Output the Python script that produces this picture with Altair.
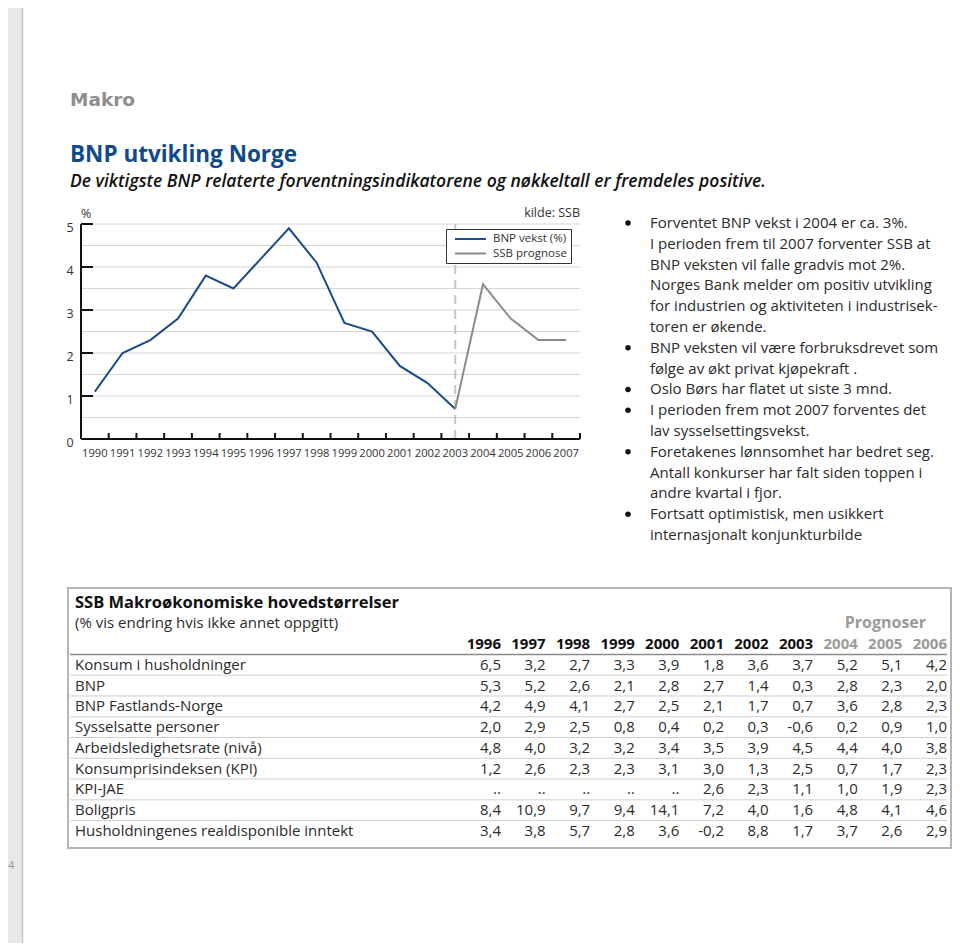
import altair as alt
import pandas as pd

FONT = "Open Sans"

# ---------------- line chart data ----------------
bnp_years = list(range(1990, 2004))
bnp_vekst = [1.1, 2.0, 2.3, 2.8, 3.8, 3.5, 4.2, 4.9, 4.1, 2.7, 2.5, 1.7, 1.3, 0.7]
prog_years = [2003, 2004, 2005, 2006, 2007]
ssb_prognose = [0.7, 3.6, 2.8, 2.3, 2.3]
series_names = ["BNP vekst (%)", "SSB prognose"]
series_colors = ["#1b4a8a", "#8a8a8a"]
x_years = list(range(1990, 2008))
y_tick_values = [0, 1, 2, 3, 4, 5]
grid_values = [0.5, 1.0, 1.5, 2.0, 2.5, 3.0, 3.5, 4.0, 4.5, 5.0]
forecast_year = 2003

# ---------------- bullet text ----------------
bullet_lines = [
    ("Forventet BNP vekst i 2004 er ca. 3%.", True),
    ("I perioden frem til 2007 forventer SSB at", False),
    ("BNP veksten vil falle gradvis mot 2%.", False),
    ("Norges Bank melder om positiv utvikling", False),
    ("for industrien og aktiviteten i industrisek-", False),
    ("toren er økende.", False),
    ("BNP veksten vil være forbruksdrevet som", True),
    ("følge av økt privat kjøpekraft .", False),
    ("Oslo Børs har flatet ut siste 3 mnd.", True),
    ("I perioden frem mot 2007 forventes det", True),
    ("lav sysselsettingsvekst.", False),
    ("Foretakenes lønnsomhet har bedret seg.", True),
    ("Antall konkurser har falt siden toppen i", False),
    ("andre kvartal i fjor.", False),
    ("Fortsatt optimistisk, men usikkert", True),
    ("internasjonalt konjunkturbilde", False),
]

# ---------------- table ----------------
table_years = ["1996", "1997", "1998", "1999", "2000", "2001", "2002", "2003", "2004", "2005", "2006"]
forecast_years = ["2004", "2005", "2006"]
table_rows = [
    "Konsum i husholdninger",
    "BNP",
    "BNP Fastlands-Norge",
    "Sysselsatte personer",
    "Arbeidsledighetsrate (nivå)",
    "Konsumprisindeksen (KPI)",
    "KPI-JAE",
    "Boligpris",
    "Husholdningenes realdisponible inntekt",
]
konsum = [6.5, 3.2, 2.7, 3.3, 3.9, 1.8, 3.6, 3.7, 5.2, 5.1, 4.2]
bnp = [5.3, 5.2, 2.6, 2.1, 2.8, 2.7, 1.4, 0.3, 2.8, 2.3, 2.0]
bnp_fastland = [4.2, 4.9, 4.1, 2.7, 2.5, 2.1, 1.7, 0.7, 3.6, 2.8, 2.3]
sysselsatte = [2.0, 2.9, 2.5, 0.8, 0.4, 0.2, 0.3, -0.6, 0.2, 0.9, 1.0]
ledighet = [4.8, 4.0, 3.2, 3.2, 3.4, 3.5, 3.9, 4.5, 4.4, 4.0, 3.8]
kpi = [1.2, 2.6, 2.3, 2.3, 3.1, 3.0, 1.3, 2.5, 0.7, 1.7, 2.3]
kpi_jae = [None, None, None, None, None, 2.6, 2.3, 1.1, 1.0, 1.9, 2.3]
boligpris = [8.4, 10.9, 9.7, 9.4, 14.1, 7.2, 4.0, 1.6, 4.8, 4.1, 4.6]
realinntekt = [3.4, 3.8, 5.7, 2.8, 3.6, -0.2, 8.8, 1.7, 3.7, 2.6, 2.9]
table_values = [konsum, bnp, bnp_fastland, sysselsatte, ledighet, kpi, kpi_jae, boligpris, realinntekt]

TEXT = "#2b2b2b"

# ================= line chart =================
xs = alt.Scale(domain=[1989.5, 2007.5], range=[73, 572], nice=False, zero=False)
ys = alt.Scale(domain=[0, 5], range=[431, 216], nice=False, zero=False)

line_df = pd.DataFrame(
    [{"year": y, "value": v, "series": series_names[0]} for y, v in zip(bnp_years, bnp_vekst)]
    + [{"year": y, "value": v, "series": series_names[1]} for y, v in zip(prog_years, ssb_prognose)]
)
grid_df = pd.DataFrame({"g": grid_values, "x0": 1989.5, "x1": 2007.5})
ytick_df = pd.DataFrame({"v": y_tick_values[1:], "x0": 1989.5})
ylab_df = pd.DataFrame({"v": y_tick_values, "x0": 1989.5, "t": [str(v) for v in y_tick_values]})
xtick_df = pd.DataFrame({"b": [y + 0.5 for y in x_years], "y0": 0})
xlab_df = pd.DataFrame({"year": x_years, "y0": 0, "t": [str(y) for y in x_years]})
axis_df = pd.DataFrame({"x0": [1989.5], "x1": [2007.5], "y0": [0], "y1": [5]})
fc_df = pd.DataFrame({"x": [forecast_year], "y0": [0], "y1": [5]})
note_df = pd.DataFrame({"x": [1989.5, 2007.5], "y": [5, 5], "t": ["%", "kilde: SSB"], "a": ["l", "r"]})

grid = alt.Chart(grid_df).mark_rule(color="#d6d6d6", strokeWidth=1).encode(
    x=alt.X("x0:Q", scale=xs, axis=None), x2="x1:Q", y=alt.Y("g:Q", scale=ys, axis=None)
)
fc_rule = alt.Chart(fc_df).mark_rule(color="#c4c4c4", strokeWidth=2, strokeDash=[9, 6]).encode(
    x=alt.X("x:Q", scale=xs, axis=None), y=alt.Y("y0:Q", scale=ys, axis=None), y2="y1:Q"
)
yaxis_line = alt.Chart(axis_df).mark_rule(color="#111", strokeWidth=2).encode(
    x=alt.X("x0:Q", scale=xs, axis=None), y=alt.Y("y0:Q", scale=ys, axis=None), y2="y1:Q"
)
xaxis_line = alt.Chart(axis_df).mark_rule(color="#111", strokeWidth=2).encode(
    x=alt.X("x0:Q", scale=xs, axis=None), x2="x1:Q", y=alt.Y("y0:Q", scale=ys, axis=None)
)
yticks = alt.Chart(ytick_df).mark_rule(color="#111", strokeWidth=2, x2Offset=12).encode(
    x=alt.X("x0:Q", scale=xs, axis=None), x2="x0:Q", y=alt.Y("v:Q", scale=ys, axis=None)
)
xticks = alt.Chart(xtick_df).mark_rule(color="#111", strokeWidth=2, y2Offset=-6).encode(
    x=alt.X("b:Q", scale=xs, axis=None), y=alt.Y("y0:Q", scale=ys, axis=None), y2="y0:Q"
)
ylabels = alt.Chart(ylab_df).mark_text(
    font=FONT, fontSize=12.5, color="#333", align="center", baseline="middle", dx=-11, dy=4
).encode(x=alt.X("x0:Q", scale=xs, axis=None), y=alt.Y("v:Q", scale=ys, axis=None), text="t:N")
xlabels = alt.Chart(xlab_df).mark_text(
    font=FONT, fontSize=11.2, color="#333", align="center", baseline="middle", dy=15
).encode(x=alt.X("year:Q", scale=xs, axis=None), y=alt.Y("y0:Q", scale=ys, axis=None), text="t:N")
pct = alt.Chart(note_df[note_df.a == "l"]).mark_text(
    font=FONT, fontSize=12.5, color="#333", align="left", baseline="middle", dx=0, dy=-10
).encode(x=alt.X("x:Q", scale=xs, axis=None), y=alt.Y("y:Q", scale=ys, axis=None), text="t:N")
kilde = alt.Chart(note_df[note_df.a == "r"]).mark_text(
    font=FONT, fontSize=12.5, color="#333", align="right", baseline="middle", dy=-11
).encode(x=alt.X("x:Q", scale=xs, axis=None), y=alt.Y("y:Q", scale=ys, axis=None), text="t:N")
lines = alt.Chart(line_df).mark_line(strokeWidth=2).encode(
    x=alt.X("year:Q", scale=xs, axis=None),
    y=alt.Y("value:Q", scale=ys, axis=None),
    color=alt.Color(
        "series:N",
        scale=alt.Scale(domain=series_names, range=series_colors),
        legend=alt.Legend(
            orient="none", legendX=438, legendY=221, title=None,
            symbolType="M-0.2,0H6", symbolSize=100, symbolStrokeWidth=2,
            labelFont=FONT, labelFontSize=11.5, labelColor="#333", labelOffset=31,
            strokeColor="#333", fillColor="white", padding=4, rowPadding=2.5,
        ),
    ),
    order="year:Q",
)
line_chart = alt.layer(grid, fc_rule, lines, yaxis_line, xaxis_line, yticks, xticks, ylabels, xlabels, pct, kilde)

# ================= bullets =================
bdf = pd.DataFrame({"i": list(range(len(bullet_lines))),
                    "t": [b[0] for b in bullet_lines],
                    "bullet": [b[1] for b in bullet_lines]})
bys = alt.Scale(domain=[0, len(bullet_lines) - 1], range=[215, 527], nice=False, zero=False)
btext = alt.Chart(bdf).mark_text(font=FONT, fontSize=15, color=TEXT, align="left", baseline="middle").encode(
    x=alt.value(642), y=alt.Y("i:Q", scale=bys, axis=None), text="t:N"
)
bdots = alt.Chart(bdf[bdf.bullet]).mark_circle(color="#111", opacity=1, size=30).encode(
    x=alt.value(620), y=alt.Y("i:Q", scale=bys, axis=None)
)
bullet_chart = alt.layer(btext, bdots)

# ================= table =================
def fmt(v):
    if v is None:
        return ".."
    return f"{v:.1f}".replace(".", ",")

cells = []
for r, (name, vals) in enumerate(zip(table_rows, table_values)):
    for c, v in enumerate(vals):
        cells.append({"r": r, "c": c, "t": fmt(v)})
cell_df = pd.DataFrame(cells)
head_df = pd.DataFrame({"r": -1, "c": list(range(len(table_years))), "t": table_years,
                        "col": ["#9a9a9a" if y in forecast_years else "#111" for y in table_years]})
rowlab_df = pd.DataFrame({"r": list(range(len(table_rows))), "t": table_rows})
sep_df = pd.DataFrame({"r": [r + 0.5 for r in range(len(table_rows) - 1)]})
headsep_df = pd.DataFrame({"r": [-0.5]})
ttl_df = pd.DataFrame({"r": [-3, -2], "t": ["SSB Makroøkonomiske hovedstørrelser",
                                           "(% vis endring hvis ikke annet oppgitt)"],
                       "w": ["bold", "normal"]})
prog_df = pd.DataFrame({"r": [-2], "c": [9], "t": ["Prognoser"]})

txs = alt.Scale(domain=[0, 10], range=[493, 939], nice=False, zero=False)
tys = alt.Scale(domain=[-3, 8], range=[594.5, 823], nice=False, zero=False)

tbox = alt.Chart(pd.DataFrame({"k": [0]})).mark_rect(fill="white", stroke="#b4b4b4", strokeWidth=2).encode(
    x=alt.value(60), x2=alt.value(943), y=alt.value(580), y2=alt.value(840)
)
seps = alt.Chart(sep_df).mark_rule(color="#cfcfcf", strokeWidth=1).encode(
    x=alt.value(62), x2=alt.value(939), y=alt.Y("r:Q", scale=tys, axis=None)
)
headsep = alt.Chart(headsep_df).mark_rule(color="#8a8a8a", strokeWidth=1.5).encode(
    x=alt.value(62), x2=alt.value(939), y=alt.Y("r:Q", scale=tys, axis=None)
)
ctext = alt.Chart(cell_df).mark_text(font=FONT, fontSize=15, color=TEXT, align="right", baseline="middle").encode(
    x=alt.X("c:Q", scale=txs, axis=None), y=alt.Y("r:Q", scale=tys, axis=None), text="t:N"
)
htext = alt.Chart(head_df).mark_text(font=FONT, fontSize=15, fontWeight="bold", align="right", baseline="middle").encode(
    x=alt.X("c:Q", scale=txs, axis=None), y=alt.Y("r:Q", scale=tys, axis=None), text="t:N",
    color=alt.Color("col:N", scale=None),
)
rtext = alt.Chart(rowlab_df).mark_text(font=FONT, fontSize=15, color=TEXT, align="left", baseline="middle").encode(
    x=alt.value(67), y=alt.Y("r:Q", scale=tys, axis=None), text="t:N"
)
ttl1 = alt.Chart(ttl_df[ttl_df.w == "bold"]).mark_text(font=FONT, fontSize=16.5, fontWeight="bold", color="#111",
                                                        align="left", baseline="middle").encode(
    x=alt.value(67), y=alt.Y("r:Q", scale=tys, axis=None), text="t:N"
)
ttl2 = alt.Chart(ttl_df[ttl_df.w == "normal"]).mark_text(font=FONT, fontSize=15, color=TEXT,
                                                          align="left", baseline="middle").encode(
    x=alt.value(67), y=alt.Y("r:Q", scale=tys, axis=None), text="t:N"
)
prog = alt.Chart(prog_df).mark_text(font=FONT, fontSize=16, fontWeight="bold", color="#9a9a9a",
                                    align="center", baseline="middle", dx=-17).encode(
    x=alt.X("c:Q", scale=txs, axis=None), y=alt.Y("r:Q", scale=tys, axis=None), text="t:N"
)
table_chart = alt.layer(tbox, seps, headsep, ttl1, ttl2, prog, htext, ctext, rtext)

# ================= page decoration & headings =================
strip = alt.Chart(pd.DataFrame({"k": [0]})).mark_rect(fill="#e7e8ea").encode(
    x=alt.value(0), x2=alt.value(14), y=alt.value(0), y2=alt.value(935)
)
strip_edge = alt.Chart(pd.DataFrame({"k": [0]})).mark_rule(color="#c6c7c9", strokeWidth=1.5).encode(
    x=alt.value(14.5), y=alt.value(0), y2=alt.value(935)
)
page_no = alt.Chart(pd.DataFrame({"t": ["4"]})).mark_text(font=FONT, fontSize=11, color="#999",
                                                          align="left", baseline="middle").encode(
    x=alt.value(0), y=alt.value(858), text="t:N"
)
makro = alt.Chart(pd.DataFrame({"t": ["Makro"]})).mark_text(
    font="DejaVu Sans", fontSize=18.5, fontWeight="bold", color="#8e8e8e", align="left", baseline="alphabetic"
).encode(x=alt.value(62), y=alt.value(98), text="t:N")
title = alt.Chart(pd.DataFrame({"t": ["BNP utvikling Norge"]})).mark_text(
    font=FONT, fontSize=22.5, fontWeight="bold", color="#0f4a8c", align="left", baseline="alphabetic"
).encode(x=alt.value(62), y=alt.value(154), text="t:N")
subtitle = alt.Chart(pd.DataFrame({"t": ["De viktigste BNP relaterte forventningsindikatorene og nøkkeltall er fremdeles positive."]})).mark_text(
    font=FONT, fontSize=17.5, fontStyle="italic", fontWeight=600, color="#111", align="left", baseline="alphabetic"
).encode(x=alt.value(62), y=alt.value(179), text="t:N")
deco = alt.layer(strip, strip_edge, page_no, makro, title, subtitle)

chart = (
    alt.layer(deco, line_chart, bullet_chart, table_chart)
    .resolve_scale(x="independent", y="independent", color="independent")
    .properties(width=944, height=935, padding=0, autosize=alt.AutoSizeParams(type="none"),
                background="white")
    .configure_view(stroke=None)
)

chart.save("out.html", embed_options={"renderer": "svg", "actions": False})
